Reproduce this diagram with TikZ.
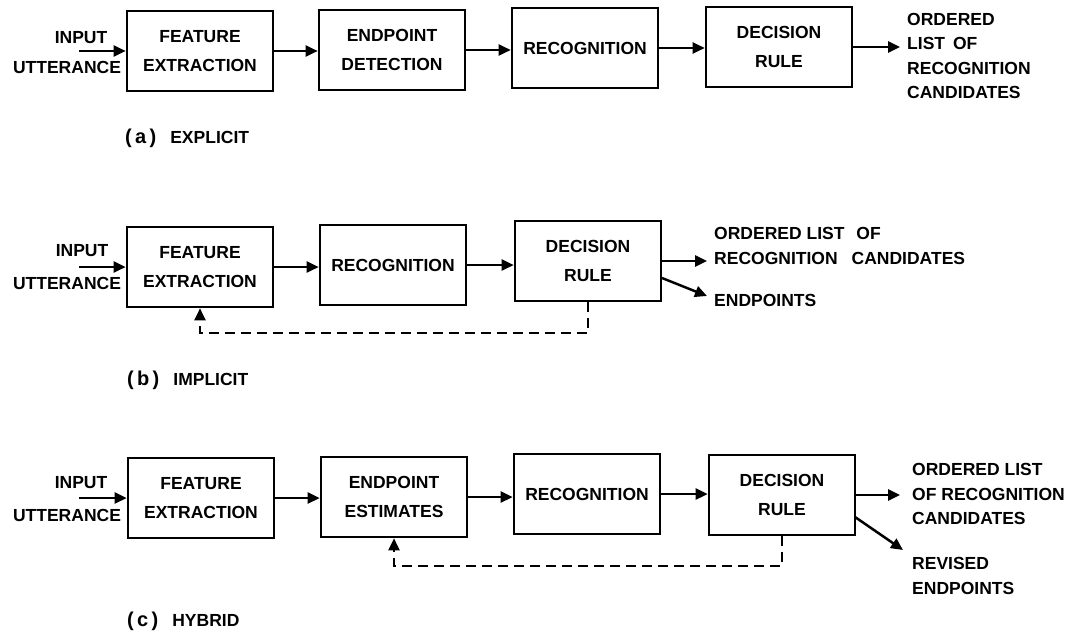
\documentclass[tikz,border=0pt]{standalone}
\usepackage{fontspec}
\setmainfont{Liberation Sans}
\usetikzlibrary{arrows.meta}
\begin{document}
\begin{tikzpicture}[x=1pt,y=-1pt,
  every node/.style={font=\fontsize{17.5}{29}\selectfont\bfseries},
  block/.style={draw, line width=2.6pt, minimum width=146pt, minimum height=80pt,
    inner sep=0pt, align=center},
  flow/.style={line width=2.5pt, -{Triangle[length=12pt,width=11pt]}},
  feedback/.style={line width=2.3pt, dash pattern=on 10pt off 6pt,
    -{Triangle[length=12pt,width=11pt]}},
  tag/.style={inner sep=0pt},
  outtext/.style={inner sep=0pt, anchor=west, align=left,
    font=\fontsize{17.5}{24.5}\selectfont\bfseries},
  caption/.style={inner sep=0pt, anchor=west}
]
\useasboundingbox (0,0) rectangle (1067,634);

% ---------------- (a) explicit ----------------
\node[tag] (ina1) at (81,38) {INPUT};
\node[tag] (ina2) at (67,67) {UTTERANCE};
\node[block] (fa) at (200,51) {FEATURE\\EXTRACTION};
\node[block] (ea) at (392,50) {ENDPOINT\\DETECTION};
\node[block] (ra) at (585,48) {RECOGNITION};
\node[block] (da) at (779,47) {DECISION\\RULE};
\node[outtext] (oa) at (907,56) {ORDERED\\LIST\hspace{8pt}OF\\RECOGNITION\\CANDIDATES};
\coordinate (sa) at (79,51);
\coordinate (ta) at (900,47);
\draw[flow] (sa) -- (fa.west);
\draw[flow] (fa.east) -- (fa.east -| ea.west);
\draw[flow] (ea.east) -- (ea.east -| ra.west);
\draw[flow] (ra.east) -- (ra.east -| da.west);
\draw[flow] (da.east) -- (ta);
\node[caption] (capa) at (125,138) {{\fontsize{20}{20}\selectfont(\,a\,)}\hspace{14pt}EXPLICIT};

% ---------------- (b) implicit ----------------
\node[tag] (inb1) at (82,251) {INPUT};
\node[tag] (inb2) at (67,283) {UTTERANCE};
\node[block] (fb) at (200,267) {FEATURE\\EXTRACTION};
\node[block] (rb) at (393,265) {RECOGNITION};
\node[block] (db) at (588,261) {DECISION\\RULE};
\node[outtext] (ob) at (714,246) {ORDERED LIST\hspace{12pt}OF\\RECOGNITION\hspace{14pt}CANDIDATES};
\node[outtext] (eb) at (714,300) {ENDPOINTS};
\coordinate (sb) at (79,267);
\coordinate (tb) at (707,261);
\coordinate (ebs) at (662,278);
\coordinate (ebt) at (707,296);
\coordinate (fbk) at (0,333);
\draw[flow] (sb) -- (fb.west);
\draw[flow] (fb.east) -- (fb.east -| rb.west);
\draw[flow] (rb.east) -- (rb.east -| db.west);
\draw[flow] (db.east) -- (tb);
\draw[flow] (ebs) -- (ebt);
\draw[feedback] (db.south) -- (db.south |- fbk) -| (fb.south);
\node[caption] (capb) at (127,380) {{\fontsize{20}{20}\selectfont(\,b\,)}\hspace{14pt}IMPLICIT};

% ---------------- (c) hybrid ----------------
\node[tag] (inc1) at (81,483) {INPUT};
\node[tag] (inc2) at (67,515) {UTTERANCE};
\node[block] (fc) at (201,498) {FEATURE\\EXTRACTION};
\node[block] (ec) at (394,497) {ENDPOINT\\ESTIMATES};
\node[block] (rc) at (587,494) {RECOGNITION};
\node[block] (dc) at (782,495) {DECISION\\RULE};
\node[outtext] (oc) at (912,494) {ORDERED LIST\\OF RECOGNITION\\CANDIDATES};
\node[outtext] (ecx) at (912,576) {REVISED\\ENDPOINTS};
\coordinate (sc) at (79,498);
\coordinate (tc) at (900,495);
\coordinate (ecs) at (855,517);
\coordinate (ect) at (903,550);
\coordinate (fck) at (0,566);
\draw[flow] (sc) -- (fc.west);
\draw[flow] (fc.east) -- (fc.east -| ec.west);
\draw[flow] (ec.east) -- (ec.east -| rc.west);
\draw[flow] (rc.east) -- (rc.east -| dc.west);
\draw[flow] (dc.east) -- (tc);
\draw[flow] (ecs) -- (ect);
\draw[feedback] (dc.south) -- (dc.south |- fck) -| (ec.south);
\node[caption] (capc) at (127,621) {{\fontsize{20}{20}\selectfont(\,c\,)}\hspace{14pt}HYBRID};
\end{tikzpicture}
\end{document}
